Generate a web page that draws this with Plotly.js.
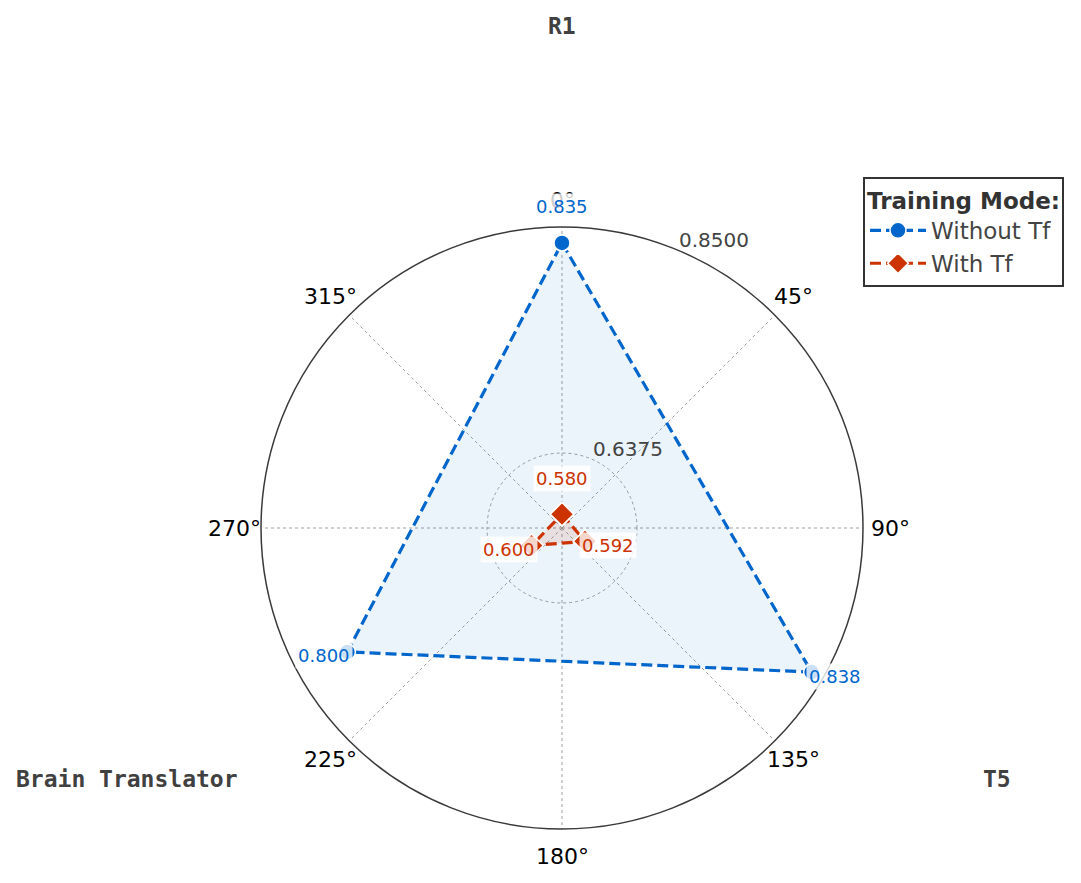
<!DOCTYPE html>
<html>
<head>
<meta charset="utf-8">
<script src="https://cdn.plot.ly/plotly-3.0.1.min.js"></script>
<style>html,body{margin:0;padding:0;background:#fff}#chart{width:1081px;height:883px}</style>
</head>
<body>
<div id="chart"></div>
<script>
// ---- data ----
const categories = ['R1', 'T5', 'Brain Translator'];
const categoryAngles = [0, 120, 240];
const withoutTf = [0.835, 0.838, 0.800];
const withTf = [0.580, 0.592, 0.600];
const seriesNames = ['Without Tf', 'With Tf'];
const angularTicks = [0, 45, 90, 135, 180, 225, 270, 315];
const angularTickText = ['0°', '45°', '90°', '135°', '180°', '225°', '270°', '315°'];
const radialTicks = [0.6375, 0.85];
const radialTickText = ['0.6375', '0.8500'];
const radialLabelAngle = 22.5;

// ---- layout constants ----
const W = 1081, H = 883;
const domX = [261 / W, 863 / W];
const domY = [54 / H, 656 / H];
const rRange = [0.567, 0.85];
const R = (domX[1] - domX[0]) * W / 2;
const cx = (domX[0] + domX[1]) / 2 * W;
const cy = (domY[0] + domY[1]) / 2 * H;
const blue = '#0066CC', red = '#CC3300';
const FONT = 'DejaVu Sans, sans-serif';

function rToPx(r) { return (r - rRange[0]) / (rRange[1] - rRange[0]) * R; }
function toPaper(px, deg) {
  const t = deg * Math.PI / 180;
  return { x: (cx + px * Math.sin(t)) / W, y: (cy + px * Math.cos(t)) / H };
}
function closed(a) { return a.concat([a[0]]); }

const traces = [
  { type: 'scatterpolar', r: closed(withoutTf), theta: closed(categoryAngles), mode: 'none',
    fill: 'toself', fillcolor: 'rgba(0,102,204,0.08)', showlegend: false, hoverinfo: 'skip' },
  { type: 'scatterpolar', r: closed(withTf), theta: closed(categoryAngles), mode: 'none',
    fill: 'toself', fillcolor: 'rgba(204,51,0,0.10)', showlegend: false, hoverinfo: 'skip' },
  { type: 'scatterpolar', name: seriesNames[0], r: closed(withoutTf), theta: closed(categoryAngles),
    mode: 'lines+markers', line: { color: blue, width: 3.2, dash: '11px,5px' },
    marker: { symbol: 'circle', size: 16, color: blue, line: { color: '#fff', width: 1.5 } } },
  { type: 'scatterpolar', name: seriesNames[1], r: closed(withTf), theta: closed(categoryAngles),
    mode: 'lines+markers', line: { color: red, width: 3.2, dash: '11px,5px' },
    marker: { symbol: 'diamond', size: 18, color: red, line: { color: '#fff', width: 1.5 } } }
];

const annotations = [];

// angular tick labels (placed around the circle, centred at a fixed radius)
angularTicks.forEach((a, i) => {
  const p = toPaper(R + 27, a);
  annotations.push({
    xref: 'paper', yref: 'paper', x: p.x, y: p.y, text: angularTickText[i], showarrow: false,
    xanchor: 'center', yanchor: 'middle',
    font: { family: FONT, size: 22, color: '#000' }
  });
});

// radial tick labels
radialTicks.forEach((v, i) => {
  const p = toPaper(rToPx(v), radialLabelAngle);
  annotations.push({
    xref: 'paper', yref: 'paper', x: p.x, y: p.y, text: radialTickText[i], showarrow: false,
    xanchor: 'left', yanchor: 'middle', xshift: 0, yshift: 10,
    font: { family: FONT, size: 20, color: '#444' }
  });
});

// value label placement per category (R1 above, T5 right, Brain Translator left)
const labelPlace = [
  { xanchor: 'center', xshift: 0, yshift: 36 },
  { xanchor: 'left', xshift: -6, yshift: -4 },
  { xanchor: 'right', xshift: 6, yshift: -4 }
];
[[withoutTf, blue], [withTf, red]].forEach(([vals, col]) => {
  vals.forEach((v, i) => {
    const p = toPaper(rToPx(v), categoryAngles[i]);
    const pl = labelPlace[i];
    annotations.push({
      xref: 'paper', yref: 'paper', x: p.x, y: p.y, text: v.toFixed(3), showarrow: false,
      xanchor: pl.xanchor, yanchor: 'middle', xshift: pl.xshift, yshift: pl.yshift,
      font: { family: FONT, size: 18, color: col },
      bgcolor: 'rgba(255,255,255,0.8)', borderpad: 2
    });
  });
});

// category labels
categories.forEach((c, i) => {
  const p = toPaper(502, categoryAngles[i]);
  annotations.push({
    xref: 'paper', yref: 'paper', x: p.x, y: p.y, text: '<b>' + c + '</b>', showarrow: false,
    xanchor: 'center', yanchor: 'middle',
    font: { family: 'DejaVu Sans Mono, monospace', size: 23, color: '#404040' }
  });
});

const layout = {
  width: W, height: H,
  margin: { l: 0, r: 0, t: 0, b: 0 },
  paper_bgcolor: '#fff',
  showlegend: true,
  polar: {
    domain: { x: domX, y: domY },
    bgcolor: '#fff',
    angularaxis: {
      rotation: 90, direction: 'clockwise', thetaunit: 'degrees',
      tickmode: 'array', tickvals: angularTicks, ticktext: angularTickText,
      ticks: '', showticklabels: false,
      showline: true, linecolor: '#3a3a3a', linewidth: 1.5,
      showgrid: true, gridcolor: '#a0a0a0', gridwidth: 1, griddash: 'dot'
    },
    radialaxis: {
      range: rRange, angle: 67.5,
      tickmode: 'array', tickvals: radialTicks, ticktext: radialTickText,
      showline: false, ticks: '', showticklabels: false,
      showgrid: true, gridcolor: '#a0a0a0', gridwidth: 1, griddash: 'dot'
    }
  },
  legend: {
    x: 1064 / W, xanchor: 'right', y: 1 - 177 / H, yanchor: 'top',
    bgcolor: '#fff', bordercolor: '#333', borderwidth: 2,
    font: { family: FONT, size: 23, color: '#444' },
    title: { text: '<b>Training Mode:</b>', font: { family: FONT, size: 23, color: '#333' } },
    itemwidth: 56, entrywidth: 200
  },
  annotations: annotations
};

Plotly.newPlot('chart', traces, layout, { displayModeBar: false, staticPlot: true });
</script>
</body>
</html>
